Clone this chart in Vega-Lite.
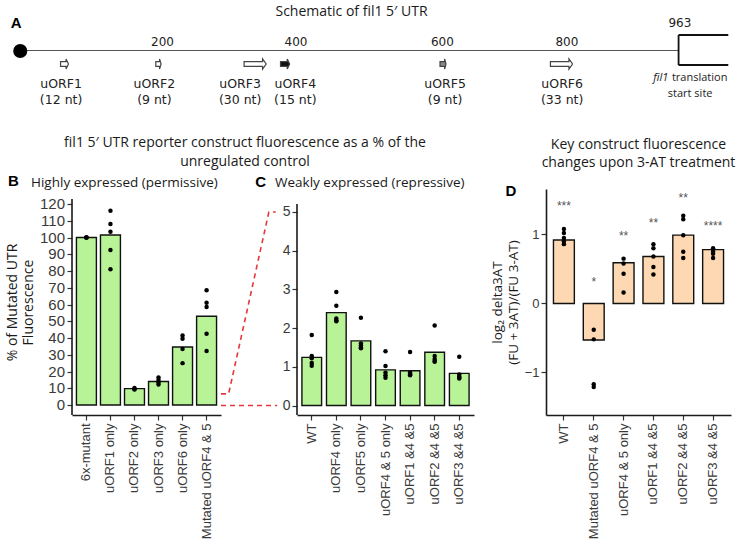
{
  "$schema": "https://vega.github.io/schema/vega-lite/v6.json",
  "padding": 5,
  "background": "white",
  "config": {
    "view": {"stroke": null},
    "font": "Open Sans",
    "axis": {"grid": false, "domainColor": "#1a1a1a", "domainWidth": 1.6, "tickColor": "#333333", "tickWidth": 1.2, "tickSize": 5, "labelColor": "#3a3a3a", "labelFont": "Liberation Sans", "labelPadding": 2, "titleFont": "Open Sans", "titleFontWeight": "normal", "titleFontSize": 14, "titleColor": "#1a1a1a", "labelFlush": false, "labelOverlap": false, "labelSeparation": 0},
    "title": {"font": "Open Sans", "fontWeight": "normal", "fontSize": 14, "color": "#1a1a1a"}
  },
  "datasets": {
    "aLine": [{"pos": -6, "pos2": 961, "y": 59.5, "y2": 59.5}],
    "aBracket": [{"pos": 961, "pos2": 961, "y": 45, "y2": 75}, {"pos": 961, "pos2": 1034, "y": 75, "y2": 75}, {"pos": 961, "pos2": 1034, "y": 45, "y2": 45}],
    "aStart": [{"pos": -6, "y": 59}],
    "aArrows": [{"id": "uORF1", "pos": 59, "y": 46}, {"id": "uORF2", "pos": 197, "y": 46}, {"id": "uORF3", "pos": 339, "y": 46}, {"id": "uORF4", "pos": 383, "y": 46}, {"id": "uORF5", "pos": 615, "y": 46}, {"id": "uORF6", "pos": 789, "y": 46}],
    "aTicks": [{"pos": 203, "y": 68.5, "t": "200"}, {"pos": 399, "y": 68.5, "t": "400"}, {"pos": 614, "y": 68.5, "t": "600"}, {"pos": 797, "y": 68.5, "t": "800"}, {"pos": 963, "y": 87, "t": "963"}],
    "aNames": [
      {"pos": 54, "y": 26, "t": "uORF1"}, {"pos": 191, "y": 26, "t": "uORF2"}, {"pos": 317, "y": 26, "t": "uORF3"}, {"pos": 398, "y": 26, "t": "uORF4"}, {"pos": 618, "y": 26, "t": "uORF5"}, {"pos": 790, "y": 26, "t": "uORF6"},
      {"pos": 54, "y": 10, "t": "(12 nt)"}, {"pos": 191, "y": 10, "t": "(9 nt)"}, {"pos": 317, "y": 10, "t": "(30 nt)"}, {"pos": 398, "y": 10, "t": "(15 nt)"}, {"pos": 618, "y": 10, "t": "(9 nt)"}, {"pos": 790, "y": 10, "t": "(33 nt)"}
    ],
    "aFil": [{"pos": 935, "y": 32, "t": "fil1"}],
    "aPlain": [{"pos": 992, "y": 32, "t": "translation"}, {"pos": 978, "y": 16, "t": "start site"}],
    "aPanel": [{"pos": -12, "y": 87, "t": "A"}],
    "bAxis": [{"x": 0, "lo": -5.97, "hi": 123}],
    "bTicks": [{"x": 0, "v": 0}, {"x": 0, "v": 10}, {"x": 0, "v": 20}, {"x": 0, "v": 30}, {"x": 0, "v": 40}, {"x": 0, "v": 50}, {"x": 0, "v": 60}, {"x": 0, "v": 70}, {"x": 0, "v": 80}, {"x": 0, "v": 90}, {"x": 0, "v": 100}, {"x": 0, "v": 110}, {"x": 0, "v": 120}],
    "bPanel": [{"c": "6x-mutant", "v": 133.7, "t": "B"}],
    "bBar": [{"c": "6x-mutant", "v": 100}, {"c": "uORF1 only", "v": 101.5}, {"c": "uORF2 only", "v": 9.8}, {"c": "uORF3 only", "v": 14}, {"c": "uORF6 only", "v": 34.6}, {"c": "Mutated uORF4 & 5", "v": 53}],
    "bPts": [
      {"c": "6x-mutant", "v": 100}, {"c": "6x-mutant", "v": 100}, {"c": "6x-mutant", "v": 100},
      {"c": "uORF1 only", "v": 116}, {"c": "uORF1 only", "v": 108}, {"c": "uORF1 only", "v": 103.5}, {"c": "uORF1 only", "v": 92.5}, {"c": "uORF1 only", "v": 81},
      {"c": "uORF2 only", "v": 10.2}, {"c": "uORF2 only", "v": 9.6}, {"c": "uORF2 only", "v": 9.3},
      {"c": "uORF3 only", "v": 16.5}, {"c": "uORF3 only", "v": 15}, {"c": "uORF3 only", "v": 13.5}, {"c": "uORF3 only", "v": 12.2},
      {"c": "uORF6 only", "v": 41.5}, {"c": "uORF6 only", "v": 39.5}, {"c": "uORF6 only", "v": 33.5}, {"c": "uORF6 only", "v": 25},
      {"c": "Mutated uORF4 & 5", "v": 68.5}, {"c": "Mutated uORF4 & 5", "v": 61}, {"c": "Mutated uORF4 & 5", "v": 58.5}, {"c": "Mutated uORF4 & 5", "v": 42.5}, {"c": "Mutated uORF4 & 5", "v": 32.3}
    ],
    "conn": [
      {"seg": "top", "i": 1, "x": 0, "y": 0.3}, {"seg": "top", "i": 2, "x": 0.1, "y": 0.3}, {"seg": "top", "i": 3, "x": 0.63, "y": 5}, {"seg": "top", "i": 4, "x": 0.72, "y": 5},
      {"seg": "bottom", "i": 1, "x": 0, "y": 0}, {"seg": "bottom", "i": 2, "x": 0.74, "y": 0}
    ],
    "cAxis": [{"x": 0, "lo": -0.245, "hi": 5.207}],
    "cPanel": [{"c": "WT", "v": 5.775, "t": "C"}],
    "cBar": [{"c": "WT", "v": 1.245}, {"c": "uORF4 only", "v": 2.4}, {"c": "uORF5 only", "v": 1.67}, {"c": "uORF4 & 5 only", "v": 0.92}, {"c": "uORF1 &4 &5", "v": 0.9}, {"c": "uORF2 &4 &5", "v": 1.375}, {"c": "uORF3 &4 &5", "v": 0.83}],
    "cPts": [
      {"c": "WT", "v": 1.82}, {"c": "WT", "v": 1.28}, {"c": "WT", "v": 1.22}, {"c": "WT", "v": 1.1}, {"c": "WT", "v": 1.03},
      {"c": "uORF4 only", "v": 2.93}, {"c": "uORF4 only", "v": 2.58}, {"c": "uORF4 only", "v": 2.25}, {"c": "uORF4 only", "v": 2.2}, {"c": "uORF4 only", "v": 2.18},
      {"c": "uORF5 only", "v": 2.27}, {"c": "uORF5 only", "v": 1.6}, {"c": "uORF5 only", "v": 1.55}, {"c": "uORF5 only", "v": 1.5}, {"c": "uORF5 only", "v": 1.48},
      {"c": "uORF4 & 5 only", "v": 1.4}, {"c": "uORF4 & 5 only", "v": 1.02}, {"c": "uORF4 & 5 only", "v": 0.85}, {"c": "uORF4 & 5 only", "v": 0.78}, {"c": "uORF4 & 5 only", "v": 0.72},
      {"c": "uORF1 &4 &5", "v": 1.38}, {"c": "uORF1 &4 &5", "v": 0.85}, {"c": "uORF1 &4 &5", "v": 0.82}, {"c": "uORF1 &4 &5", "v": 0.8}, {"c": "uORF1 &4 &5", "v": 0.78},
      {"c": "uORF2 &4 &5", "v": 2.07}, {"c": "uORF2 &4 &5", "v": 1.28}, {"c": "uORF2 &4 &5", "v": 1.2}, {"c": "uORF2 &4 &5", "v": 1.15}, {"c": "uORF2 &4 &5", "v": 1.13},
      {"c": "uORF3 &4 &5", "v": 1.26}, {"c": "uORF3 &4 &5", "v": 0.8}, {"c": "uORF3 &4 &5", "v": 0.75}, {"c": "uORF3 &4 &5", "v": 0.72}, {"c": "uORF3 &4 &5", "v": 0.7}
    ],
    "dBar": [{"c": "WT", "v": 0.92}, {"c": "Mutated uORF4 & 5", "v": -0.53}, {"c": "uORF4 & 5 only", "v": 0.59}, {"c": "uORF1 &4 &5", "v": 0.68}, {"c": "uORF2 &4 &5", "v": 0.99}, {"c": "uORF3 &4 &5", "v": 0.78}],
    "dPts": [
      {"c": "WT", "v": 1.08}, {"c": "WT", "v": 1.02}, {"c": "WT", "v": 0.95}, {"c": "WT", "v": 0.9}, {"c": "WT", "v": 0.86},
      {"c": "Mutated uORF4 & 5", "v": -0.38}, {"c": "Mutated uORF4 & 5", "v": -0.52}, {"c": "Mutated uORF4 & 5", "v": -1.17}, {"c": "Mutated uORF4 & 5", "v": -1.21},
      {"c": "uORF4 & 5 only", "v": 0.65}, {"c": "uORF4 & 5 only", "v": 0.58}, {"c": "uORF4 & 5 only", "v": 0.43}, {"c": "uORF4 & 5 only", "v": 0.16},
      {"c": "uORF1 &4 &5", "v": 0.86}, {"c": "uORF1 &4 &5", "v": 0.8}, {"c": "uORF1 &4 &5", "v": 0.68}, {"c": "uORF1 &4 &5", "v": 0.53}, {"c": "uORF1 &4 &5", "v": 0.42},
      {"c": "uORF2 &4 &5", "v": 1.27}, {"c": "uORF2 &4 &5", "v": 1.22}, {"c": "uORF2 &4 &5", "v": 0.99}, {"c": "uORF2 &4 &5", "v": 0.75}, {"c": "uORF2 &4 &5", "v": 0.66},
      {"c": "uORF3 &4 &5", "v": 0.8}, {"c": "uORF3 &4 &5", "v": 0.78}, {"c": "uORF3 &4 &5", "v": 0.75}, {"c": "uORF3 &4 &5", "v": 0.72}, {"c": "uORF3 &4 &5", "v": 0.66}
    ],
    "dSig": [{"c": "WT", "v": 1.41, "s": "***"}, {"c": "Mutated uORF4 & 5", "v": 0.31, "s": "*"}, {"c": "uORF4 & 5 only", "v": 0.98, "s": "**"}, {"c": "uORF1 &4 &5", "v": 1.16, "s": "**"}, {"c": "uORF2 &4 &5", "v": 1.53, "s": "**"}, {"c": "uORF3 &4 &5", "v": 1.13, "s": "****"}],
    "dPanel": [{"c": "WT", "v": 1.63, "t": "D"}]
  },
  "spacing": 26,
  "vconcat": [
    {
      "width": 659,
      "height": 92,
      "title": {"text": "Schematic of fil1 5′ UTR", "anchor": "middle", "frame": "group", "dx": -50, "fontSize": 14, "offset": -3},
      "layer": [
        {"data": {"name": "aLine"}, "mark": {"type": "rule", "color": "#555555", "strokeWidth": 1.2},
         "encoding": {
           "x": {"field": "pos", "type": "quantitative", "scale": {"domain": [70, 1038], "nice": false, "zero": false}, "axis": null},
           "x2": {"field": "pos2"},
           "y": {"field": "y", "type": "quantitative", "scale": {"domain": [0, 92], "nice": false, "zero": false}, "axis": null},
           "y2": {"field": "y2"}
         }},
        {"data": {"name": "aBracket"}, "mark": {"type": "rule", "color": "#111111", "strokeWidth": 1.8},
         "encoding": {
           "x": {"field": "pos", "type": "quantitative", "scale": {"domain": [70, 1038], "nice": false, "zero": false}, "axis": null},
           "x2": {"field": "pos2"},
           "y": {"field": "y", "type": "quantitative", "scale": {"domain": [0, 92], "nice": false, "zero": false}, "axis": null},
           "y2": {"field": "y2"}
         }},
        {"data": {"name": "aStart"}, "mark": {"type": "circle", "color": "#000000", "size": 200, "opacity": 1},
         "encoding": {
           "x": {"field": "pos", "type": "quantitative", "scale": {"domain": [70, 1038], "nice": false, "zero": false}, "axis": null},
           "y": {"field": "y", "type": "quantitative", "scale": {"domain": [0, 92], "nice": false, "zero": false}, "axis": null}
         }},
        {"data": {"name": "aArrows"}, "mark": {"type": "point", "filled": true, "size": 576, "stroke": "#444444", "strokeWidth": 1.2, "opacity": 1},
         "encoding": {
           "x": {"field": "pos", "type": "quantitative", "scale": {"domain": [70, 1038], "nice": false, "zero": false}, "axis": null},
           "y": {"field": "y", "type": "quantitative", "scale": {"domain": [0, 92], "nice": false, "zero": false}, "axis": null},
           "shape": {"field": "id", "type": "nominal", "legend": null, "scale": {"domain": ["uORF1", "uORF2", "uORF3", "uORF4", "uORF5", "uORF6"], "range": [
             "M-0.33,-0.2L0.13,-0.2L0.13,-0.42L0.33,0L0.13,0.42L0.13,0.2L-0.33,0.2Z",
             "M-0.22,-0.2L0.09,-0.2L0.09,-0.42L0.22,0L0.09,0.42L0.09,0.2L-0.22,0.2Z",
             "M-0.92,-0.2L0.62,-0.2L0.62,-0.42L0.92,0L0.62,0.42L0.62,0.2L-0.92,0.2Z",
             "M-0.38,-0.2L0.18,-0.2L0.18,-0.42L0.38,0L0.18,0.42L0.18,0.2L-0.38,0.2Z",
             "M-0.25,-0.2L0.13,-0.2L0.13,-0.42L0.25,0L0.13,0.42L0.13,0.2L-0.25,0.2Z",
             "M-0.92,-0.2L0.62,-0.2L0.62,-0.42L0.92,0L0.62,0.42L0.62,0.2L-0.92,0.2Z"
           ]}},
           "fill": {"condition": [{"test": "datum.id === 'uORF4'", "value": "#111111"}, {"test": "datum.id === 'uORF5'", "value": "#888888"}], "value": "#ffffff"}
         }},
        {"data": {"name": "aTicks"}, "mark": {"type": "text", "font": "DejaVu Sans", "fontSize": 12, "color": "#222222", "baseline": "middle"},
         "encoding": {
           "x": {"field": "pos", "type": "quantitative", "scale": {"domain": [70, 1038], "nice": false, "zero": false}, "axis": null},
           "y": {"field": "y", "type": "quantitative", "scale": {"domain": [0, 92], "nice": false, "zero": false}, "axis": null},
           "text": {"field": "t"}
         }},
        {"data": {"name": "aNames"}, "mark": {"type": "text", "font": "DejaVu Sans", "fontSize": 12.5, "color": "#222222", "baseline": "middle"},
         "encoding": {
           "x": {"field": "pos", "type": "quantitative", "scale": {"domain": [70, 1038], "nice": false, "zero": false}, "axis": null},
           "y": {"field": "y", "type": "quantitative", "scale": {"domain": [0, 92], "nice": false, "zero": false}, "axis": null},
           "text": {"field": "t"}
         }},
        {"data": {"name": "aFil"}, "mark": {"type": "text", "font": "Open Sans", "fontSize": 11, "fontStyle": "italic", "color": "#222222", "baseline": "middle"},
         "encoding": {
           "x": {"field": "pos", "type": "quantitative", "scale": {"domain": [70, 1038], "nice": false, "zero": false}, "axis": null},
           "y": {"field": "y", "type": "quantitative", "scale": {"domain": [0, 92], "nice": false, "zero": false}, "axis": null},
           "text": {"field": "t"}
         }},
        {"data": {"name": "aPlain"}, "mark": {"type": "text", "font": "Open Sans", "fontSize": 11, "color": "#222222", "baseline": "middle"},
         "encoding": {
           "x": {"field": "pos", "type": "quantitative", "scale": {"domain": [70, 1038], "nice": false, "zero": false}, "axis": null},
           "y": {"field": "y", "type": "quantitative", "scale": {"domain": [0, 92], "nice": false, "zero": false}, "axis": null},
           "text": {"field": "t"}
         }},
        {"data": {"name": "aPanel"}, "mark": {"type": "text", "font": "Liberation Sans", "fontSize": 15, "fontWeight": "bold", "color": "#000000", "baseline": "middle"},
         "encoding": {
           "x": {"field": "pos", "type": "quantitative", "scale": {"domain": [70, 1038], "nice": false, "zero": false}, "axis": null},
           "y": {"field": "y", "type": "quantitative", "scale": {"domain": [0, 92], "nice": false, "zero": false}, "axis": null},
           "text": {"field": "t"}
         }}
      ]
    },
    {
      "bounds": "flush",
      "spacing": 0,
      "hconcat": [
        {
          "width": 149,
          "height": 226,
          "title": {"text": "Highly expressed (permissive)", "anchor": "start", "frame": "group", "dx": -41, "fontSize": 13.5, "offset": -15},
          "resolve": {"scale": {"x": "independent"}, "axis": {"x": "independent"}},
          "layer": [
            {"layer": [
              {"data": {"name": "bAxis"}, "mark": {"type": "rule", "color": "#1a1a1a", "strokeWidth": 1.6},
               "encoding": {
                 "x": {"field": "x", "type": "quantitative", "scale": {"domain": [0, 1], "nice": false, "zero": false}, "axis": null},
                 "y": {"field": "lo", "type": "quantitative", "scale": {"domain": [-5.97, 128.96], "nice": false, "zero": false}},
                 "y2": {"field": "hi"}
               }},
              {"data": {"name": "bTicks"}, "mark": {"type": "text", "align": "right", "baseline": "middle", "dx": -7, "font": "Liberation Sans", "fontSize": 15, "color": "#3a3a3a"},
               "encoding": {
                 "x": {"field": "x", "type": "quantitative", "scale": {"domain": [0, 1], "nice": false, "zero": false}, "axis": null},
                 "y": {"field": "v", "type": "quantitative", "scale": {"domain": [-5.97, 128.96], "nice": false, "zero": false}},
                 "text": {"field": "v", "type": "quantitative"}
               }}
            ]},
            {"layer": [
              {"data": {"name": "bBar"}, "mark": {"type": "bar", "fill": "#b9f397", "stroke": "#111111", "strokeWidth": 1.4},
               "encoding": {
                 "x": {"field": "c", "type": "nominal", "scale": {"domain": ["6x-mutant", "uORF1 only", "uORF2 only", "uORF3 only", "uORF6 only", "Mutated uORF4 & 5"], "paddingInner": 0.17, "paddingOuter": 0.185}, "axis": {"title": null, "labelAngle": -90, "labelFontSize": 13, "labelPadding": 3}},
                 "y": {"field": "v", "type": "quantitative", "scale": {"domain": [-5.97, 128.96], "nice": false, "zero": false}, "axis": {"values": [0, 10, 20, 30, 40, 50, 60, 70, 80, 90, 100, 110, 120], "tickCount": 13, "labels": false, "domain": false, "title": ["% of Mutated UTR", "Fluorescence"], "titlePadding": 31}},
                 "y2": {"datum": 0}
               }},
              {"data": {"name": "bPts"}, "mark": {"type": "circle", "color": "#000000", "size": 20, "opacity": 1}, "encoding": {"x": {"field": "c", "type": "nominal"}, "y": {"field": "v", "type": "quantitative"}}},
              {"data": {"name": "bPanel"}, "mark": {"type": "text", "font": "Liberation Sans", "fontSize": 15, "fontWeight": "bold", "color": "#000000", "baseline": "middle", "dx": -73}, "encoding": {"x": {"field": "c", "type": "nominal"}, "y": {"field": "v", "type": "quantitative"}, "text": {"field": "t"}}}
            ]}
          ]
        },
        {
          "width": 76,
          "height": 226,
          "title": {"text": ["fil1 5′ UTR reporter construct fluorescence as a % of the", "unregulated control"], "anchor": "middle", "frame": "group", "dx": -14, "fontSize": 14, "lineHeight": 19, "offset": 20},
          "data": {"name": "conn"},
          "mark": {"type": "line", "color": "#e5373c", "strokeDash": [5, 4], "strokeWidth": 1.6},
          "encoding": {
            "x": {"field": "x", "type": "quantitative", "scale": {"domain": [0, 1], "nice": false, "zero": false}, "axis": null},
            "y": {"field": "y", "type": "quantitative", "scale": {"domain": [-0.245, 5.594], "nice": false, "zero": false}, "axis": null},
            "detail": {"field": "seg"},
            "order": {"field": "i"}
          }
        },
        {
          "width": 177,
          "height": 226,
          "title": {"text": "Weakly expressed (repressive)", "anchor": "start", "frame": "group", "dx": -22, "fontSize": 13.5, "offset": -15},
          "resolve": {"scale": {"x": "independent"}, "axis": {"x": "independent"}},
          "layer": [
            {"data": {"name": "cAxis"}, "mark": {"type": "rule", "color": "#1a1a1a", "strokeWidth": 1.6},
             "encoding": {
               "x": {"field": "x", "type": "quantitative", "scale": {"domain": [0, 1], "nice": false, "zero": false}, "axis": null},
               "y": {"field": "lo", "type": "quantitative", "scale": {"domain": [-0.245, 5.594], "nice": false, "zero": false}, "axis": {"values": [0, 1, 2, 3, 4, 5], "labelOverlap": false, "domain": false, "labelFontSize": 14, "title": null}},
               "y2": {"field": "hi"}
             }},
            {"layer": [
              {"data": {"name": "cBar"}, "mark": {"type": "bar", "fill": "#b9f397", "stroke": "#111111", "strokeWidth": 1.4},
               "encoding": {
                 "x": {"field": "c", "type": "nominal", "scale": {"domain": ["WT", "uORF4 only", "uORF5 only", "uORF4 & 5 only", "uORF1 &4 &5", "uORF2 &4 &5", "uORF3 &4 &5"], "paddingInner": 0.2, "paddingOuter": 0.2}, "axis": {"title": null, "labelAngle": -90, "labelFontSize": 13, "labelPadding": 3}},
                 "y": {"field": "v", "type": "quantitative", "scale": {"domain": [-0.245, 5.594], "nice": false, "zero": false}, "axis": {"values": [0, 1, 2, 3, 4, 5], "labelOverlap": false, "domain": false, "labelFontSize": 14, "title": null}},
                 "y2": {"datum": 0}
               }},
              {"data": {"name": "cPts"}, "mark": {"type": "circle", "color": "#000000", "size": 20, "opacity": 1}, "encoding": {"x": {"field": "c", "type": "nominal"}, "y": {"field": "v", "type": "quantitative"}}},
              {"data": {"name": "cPanel"}, "mark": {"type": "text", "font": "Liberation Sans", "fontSize": 15, "fontWeight": "bold", "color": "#000000", "baseline": "middle", "dx": -51}, "encoding": {"x": {"field": "c", "type": "nominal"}, "y": {"field": "v", "type": "quantitative"}, "text": {"field": "t"}}}
            ]}
          ]
        },
        {
          "width": 72,
          "height": 226,
          "data": {"values": [{"a": 0}]},
          "mark": {"type": "point", "opacity": 0},
          "encoding": {}
        },
        {
          "width": 185,
          "height": 226,
          "title": {"text": ["Key construct fluorescence", "changes upon 3-AT treatment"], "anchor": "middle", "frame": "group", "fontSize": 14, "lineHeight": 18, "offset": 14},
          "layer": [
            {"data": {"name": "dBar"}, "mark": {"type": "bar", "fill": "#fdd8b2", "stroke": "#111111", "strokeWidth": 1.4},
             "encoding": {
               "x": {"field": "c", "type": "nominal", "scale": {"domain": ["WT", "Mutated uORF4 & 5", "uORF4 & 5 only", "uORF1 &4 &5", "uORF2 &4 &5", "uORF3 &4 &5"], "paddingInner": 0.3, "paddingOuter": 0.25}, "axis": {"title": null, "labelAngle": -90, "labelFontSize": 13, "labelPadding": 3}},
               "y": {"field": "v", "type": "quantitative", "scale": {"domain": [-1.616, 1.659], "nice": false, "zero": false}, "axis": {"values": [-1, 0, 1], "format": "d", "labelOverlap": false, "labelFontSize": 13, "title": ["log₂ delta3AT", "(FU + 3AT)/(FU 3-AT)"], "titleFontSize": 13.5, "titlePadding": 4}},
               "y2": {"datum": 0}
             }},
            {"data": {"name": "dPts"}, "mark": {"type": "circle", "color": "#000000", "size": 20, "opacity": 1}, "encoding": {"x": {"field": "c", "type": "nominal"}, "y": {"field": "v", "type": "quantitative"}}},
            {"data": {"name": "dSig"}, "mark": {"type": "text", "font": "Liberation Sans", "fontSize": 12, "color": "#555555", "baseline": "middle"}, "encoding": {"x": {"field": "c", "type": "nominal"}, "y": {"field": "v", "type": "quantitative"}, "text": {"field": "s"}}},
            {"data": {"name": "dPanel"}, "mark": {"type": "text", "font": "Liberation Sans", "fontSize": 15, "fontWeight": "bold", "color": "#000000", "baseline": "middle", "dx": -53}, "encoding": {"x": {"field": "c", "type": "nominal"}, "y": {"field": "v", "type": "quantitative"}, "text": {"field": "t"}}}
          ]
        }
      ]
    }
  ]
}
